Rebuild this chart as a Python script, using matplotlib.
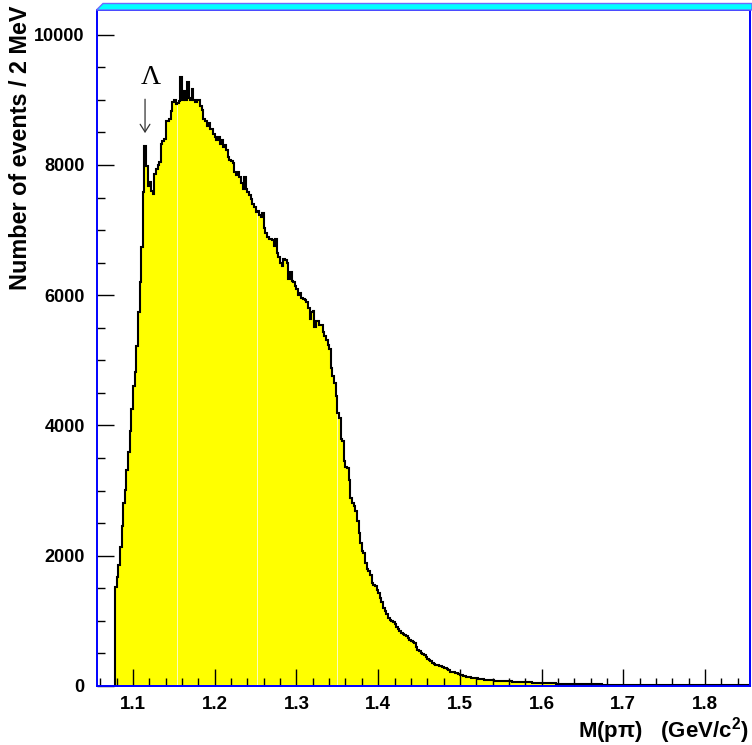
import numpy as np
import matplotlib
matplotlib.use('Agg')
import matplotlib.pyplot as plt
from matplotlib.patches import Polygon
from matplotlib.ticker import MultipleLocator

# ------------------------------------------------------------------
# data: M(p pi) spectrum, 2 MeV bins starting near p+pi threshold
# ------------------------------------------------------------------
BIN_START = 1.078
BIN_WIDTH = 0.002
LAMBDA_MASS = 1.1157

counts_rise = [1520, 1680, 1860, 2140, 2450, 2810, 3010, 3320, 3600, 3910,
               4250, 4600, 4820, 5220, 5740, 6200]

counts_peak = [6740, 7580, 8290, 7980, 7680, 7740, 7600, 7550, 7860, 7940,
               8000, 8050, 8320, 8370, 8400, 8680, 8680, 8700, 8830, 8970,
               9000, 8930, 8950, 8990, 9350, 9000, 9140, 9000, 9280, 9030,
               9000, 9170, 9000, 8970, 9000, 9000, 8900, 8850, 8700, 8680,
               8600, 8650, 8560, 8560, 8480, 8430, 8380, 8430, 8330, 8380,
               8280, 8300, 8230, 8120, 8070, 8060]

counts_fall = [8030, 7900, 7850, 7900, 7810, 7730, 7630, 7810, 7630, 7590,
               7540, 7480, 7400, 7350, 7280, 7300, 7230, 7200, 7260, 7040,
               6950, 6900, 6860, 6870, 6850, 6760, 6860, 6650, 6580, 6500,
               6450, 6550, 6540, 6490, 6250, 6350, 6220, 6200, 6140, 6090,
               6000, 6040, 5960, 5950, 5930, 5890, 5810, 5630, 5740, 5760,
               5520, 5600, 5600, 5540, 5550, 5440, 5370, 5310, 5230, 5180]

counts_drop = [4880, 4760, 4660, 4450, 4190, 4120, 3790, 3760, 3450, 3370,
               3350, 3170, 2890, 2810, 2760, 2680, 2530, 2350, 2200, 2070,
               2040, 1890, 1790, 1760, 1710, 1580, 1550, 1530, 1480, 1430,
               1350]

counts_tail1 = [1290, 1200, 1150, 1100, 1050, 1020, 1000, 990, 950, 900,
                870, 840, 820, 800, 780, 770, 740, 710, 690, 670,
                660, 600, 550, 530, 510, 490, 470, 450, 420, 400,
                380, 360, 340, 320, 315, 305, 300, 290, 280, 270,
                255, 240, 220, 215, 210, 200, 195, 185, 175, 165,
                155, 150, 145, 140, 135, 130, 125, 120]

counts_tail2 = [116, 112, 109, 104, 100, 97, 92, 91, 88, 86,
                85, 83, 82, 80, 79, 77, 78, 75, 74, 72,
                71, 70, 68, 69, 66, 64, 62, 61, 60, 58,
                57, 56, 55, 54, 53, 52, 53, 50, 49, 48,
                47, 46, 45, 44, 43, 42, 41, 40, 39, 38,
                37, 36, 35, 34, 33, 34, 32, 31, 31, 30,
                30, 29, 29, 28, 28, 29, 27, 27, 26, 26,
                26, 25, 25, 26, 24, 24, 24, 23, 23, 23,
                22, 22, 23, 22, 21, 21, 21, 21, 20, 20,
                20, 21, 19, 19, 19, 19, 18, 18, 19, 18,
                18, 17, 17, 17, 18, 17, 16, 16, 16, 16,
                16, 17, 15, 15, 15, 15, 16, 15, 14, 14,
                14, 14, 15, 14, 14, 13, 13, 13, 14, 13,
                13, 13, 13, 12, 12, 12, 13, 12, 12, 12,
                12, 12, 11, 11, 12, 11, 11, 11, 11, 11,
                11, 10, 10, 11, 10, 10, 10, 10, 10, 10,
                10, 10, 9, 9, 10, 9, 9, 9]

# fill seams visible inside the yellow area
seam_x = [1.1535, 1.2515, 1.3495]

x_major = [1.1, 1.2, 1.3, 1.4, 1.5, 1.6, 1.7, 1.8]
y_major = [0, 2000, 4000, 6000, 8000, 10000]

counts = np.array(counts_rise + counts_peak + counts_fall + counts_drop
                  + counts_tail1 + counts_tail2, dtype=float)
edges = BIN_START + BIN_WIDTH * np.arange(len(counts) + 1)

# ------------------------------------------------------------------
# plot
# ------------------------------------------------------------------
plt.rcParams['font.family'] = ['Liberation Sans', 'DejaVu Sans']
plt.rcParams['font.weight'] = 'bold'
plt.rcParams['mathtext.fontset'] = 'custom'
plt.rcParams['mathtext.rm'] = 'Liberation Sans:bold'
plt.rcParams['mathtext.bf'] = 'Liberation Sans:bold'

W, H = 752, 745
fig = plt.figure(figsize=(W / 100, H / 100), dpi=100)
ax = fig.add_axes([96.5 / W, 1 - 686 / H, (750 - 96.5) / W, (686 - 10) / H])

ax.stairs(counts, edges, fill=True, color='#ffff00', zorder=1)
for sx in seam_x:
    k = int((sx - BIN_START) / BIN_WIDTH)
    ax.vlines(sx, 0, counts[k], color='#fbfbc8', lw=0.7, zorder=1.5)
ax.stairs(counts, edges, color='black', lw=1.5, baseline=0, zorder=2)

ax.set_xlim(1.0553, 1.855)
ax.set_ylim(0, 10380)

ax.xaxis.set_minor_locator(MultipleLocator(0.02))
ax.yaxis.set_minor_locator(MultipleLocator(500))
ax.set_xticks(x_major)
ax.set_xticklabels([f'{v:.1f}' for v in x_major])
ax.set_yticks(y_major)
ax.set_yticklabels([str(v) for v in y_major])

ax.tick_params(which='both', direction='in', top=False, right=False,
               color='black', width=1.0, zorder=3)
ax.tick_params(which='major', length=12)
ax.tick_params(which='minor', length=6)
ax.tick_params(axis='x', which='major', pad=7, labelsize=13.5)
ax.tick_params(axis='y', which='major', pad=8.5, labelsize=13)
for lab in ax.get_xticklabels() + ax.get_yticklabels():
    lab.set_fontweight('bold')

for sp in ax.spines.values():
    sp.set_color('#0000ff')
    sp.set_linewidth(1.4)
    sp.set_zorder(4)

# cyan frame border above the plot
band = Polygon([(96.5 / W, 1 - 10 / H), (103 / W, 1 - 3.5 / H),
                (1.0, 1 - 3.5 / H), (1.0, 1 - 10 / H)],
               closed=True, transform=fig.transFigure,
               facecolor='#00ffff', edgecolor='#6a6aff', lw=1.0)
fig.patches.append(band)

# Lambda marker
ax.annotate('', xy=(LAMBDA_MASS - 0.001, 8490), xytext=(LAMBDA_MASS - 0.001, 9010),
            arrowprops=dict(arrowstyle='->,head_length=0.55,head_width=0.35',
                            color='#333333', lw=0.9, shrinkA=0, shrinkB=0))
ax.text(LAMBDA_MASS + 0.0058, 9340, 'Λ', family='Liberation Serif',
        fontweight='normal', fontsize=20, ha='center', va='center')

fig.text(21 / W, 1 - 5 / H, 'Number of events / 2 MeV', rotation=90,
         ha='center', va='top', fontsize=16.8, fontweight='bold')
fig.text(749 / W, 1 - 737.5 / H, 'M(pπ)   (GeV/c$^{2}$)',
         ha='right', va='baseline', fontsize=16, fontweight='bold')

fig.savefig('out.png', dpi=100)
